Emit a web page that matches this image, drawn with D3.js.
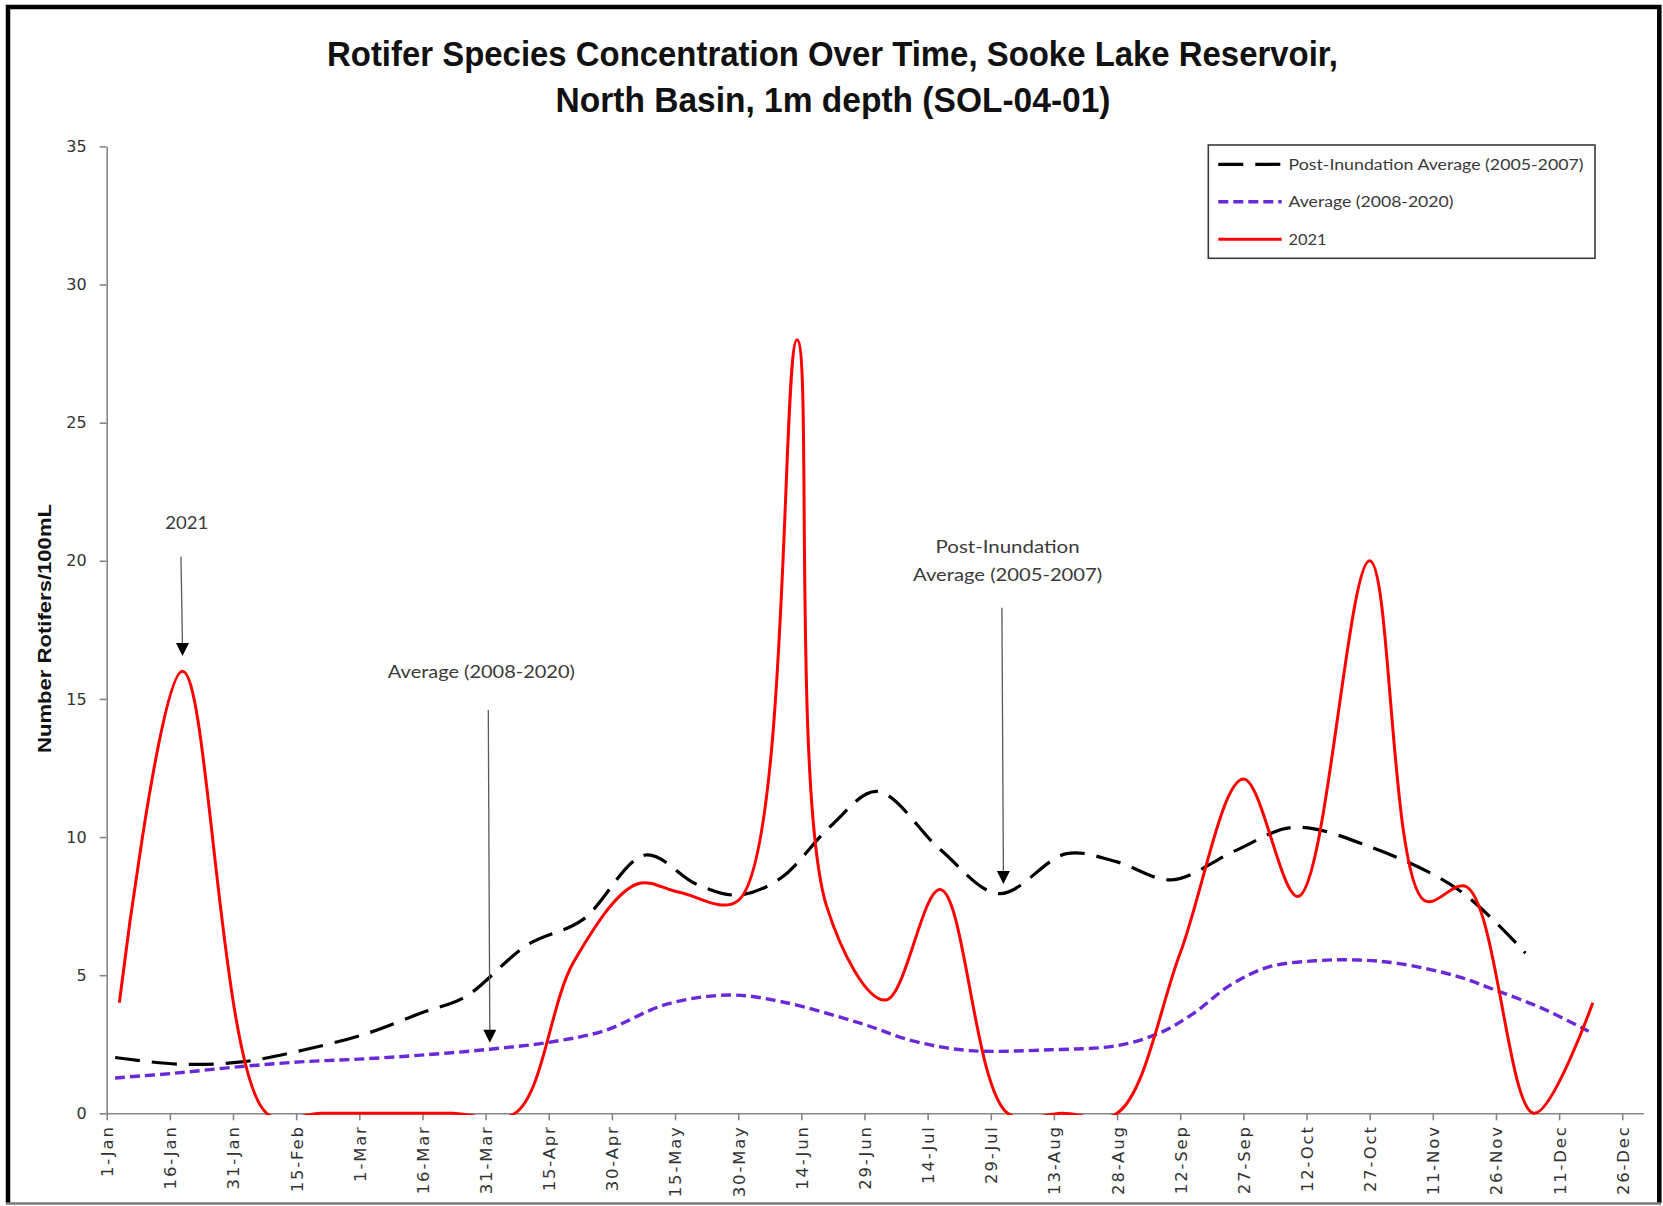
<!DOCTYPE html>
<html>
<head>
<meta charset="utf-8">
<script src="https://cdn.jsdelivr.net/npm/d3@7"></script>
<style>
  body { margin: 0; background: #fff; }
  svg { display: block; }
</style>
</head>
<body>
<svg id="chart" width="1663" height="1206"></svg>
<script>
// x axis tick labels (15 day steps, leap-year calendar like the original sheet)
var tickLabels = ["1-Jan","16-Jan","31-Jan","15-Feb","1-Mar","16-Mar","31-Mar","15-Apr","30-Apr",
  "15-May","30-May","14-Jun","29-Jun","14-Jul","29-Jul","13-Aug","28-Aug","12-Sep","27-Sep",
  "12-Oct","27-Oct","11-Nov","26-Nov","11-Dec","26-Dec"];
var yTicks = [0, 5, 10, 15, 20, 25, 30, 35];

// Post-Inundation Average (2005-2007)
var postDates = ["3-Jan","18-Jan","2-Feb","17-Feb","3-Mar","16-Mar","26-Mar","10-Apr","23-Apr","8-May",
  "20-May","30-May","9-Jun","21-Jun","2-Jul","17-Jul","31-Jul","16-Aug","28-Aug","10-Sep","25-Sep",
  "9-Oct","27-Oct","17-Nov","3-Dec"];
var postValues = [2.02, 1.78, 1.86, 2.3, 2.9, 3.65, 4.2, 6.1, 7.0, 9.35,
  8.3, 7.9, 8.5, 10.4, 11.65, 9.55, 7.95, 9.4, 9.1, 8.45, 9.5,
  10.35, 9.65, 8.1, 5.8];

// Average (2008-2020)
var avgDates = ["3-Jan","17-Jan","1-Feb","16-Feb","2-Mar","17-Mar","1-Apr","15-Apr","28-Apr","13-May",
  "28-May","9-Jun","28-Jun","11-Jul","24-Jul","12-Aug","28-Aug","7-Sep","15-Sep","24-Sep","3-Oct",
  "14-Oct","24-Oct","3-Nov","17-Nov","26-Nov","7-Dec","18-Dec"];
var avgValues = [1.28, 1.45, 1.68, 1.86, 1.97, 2.12, 2.32, 2.57, 2.98, 3.95,
  4.28, 4.05, 3.26, 2.6, 2.27, 2.3, 2.45, 2.9, 3.6, 4.65, 5.3,
  5.52, 5.55, 5.42, 4.95, 4.45, 3.8, 2.97];

// 2021
var obsDates = ["4-Jan","19-Jan","8-Feb","21-Feb","7-Mar","23-Mar","7-Apr","21-Apr","6-May","16-May",
  "30-May","13-Jun","20-Jun","4-Jul","17-Jul","2-Aug","15-Aug","28-Aug","12-Sep","27-Sep","10-Oct",
  "27-Oct","9-Nov","19-Nov","5-Dec","19-Dec"];
var obsValues = [4, 16, 0, 0, 0, 0, 0, 5.5, 8.3, 8.0,
  7.7, 28, 7.5, 4.1, 8.1, 0, 0, 0, 5.8, 12.1, 7.85,
  20, 7.7, 8.2, 0, 4];

var seriesNames = ["Post-Inundation Average (2005-2007)", "Average (2008-2020)", "2021"];

var parseDay = d3.timeParse("%d-%b-%Y");
function toDate(s) { return parseDay(s + "-2020"); }

var W = 1663, H = 1206;
var svg = d3.select("#chart");
svg.append("rect").attr("width", W).attr("height", H).attr("fill", "#fff");

var x = d3.scaleTime().domain([toDate("1-Jan"), toDate("31-Dec")]).range([106.7, 1643.3]);
var y = d3.scaleLinear().domain([0, 35]).range([1113.3, 146.4]);

var series = [
  {name: seriesNames[0], dates: postDates, values: postValues, color: "#000000", width: 3.2, dash: "25,12"},
  {name: seriesNames[1], dates: avgDates, values: avgValues, color: "#6a28d8", width: 3.4, dash: "10,5"},
  {name: seriesNames[2], dates: obsDates, values: obsValues, color: "#ff0000", width: 3, dash: null}
];

/*  FRAME   */
svg.append("path")
  .attr("d", "M8,1203 V7 H1659.3 V1203")
  .attr("fill", "none").attr("stroke", "#000").attr("stroke-width", 4.5);
svg.append("line")
  .attr("x1", 6).attr("x2", 1661).attr("y1", 1203.5).attr("y2", 1203.5)
  .attr("stroke", "#7a7a7a").attr("stroke-width", 2.5);

/*  TITLE   */
var titleFont = '"Liberation Sans Narrow", "Arial Narrow", "Liberation Sans", Arial, sans-serif';
var title = svg.append("g").attr("font-family", titleFont).attr("font-weight", "bold")
  .attr("font-size", 35).attr("text-anchor", "middle").attr("fill", "#111");
title.append("text").attr("x", 832.5).attr("y", 66)
  .attr("textLength", 1011).attr("lengthAdjust", "spacingAndGlyphs")
  .text("Rotifer Species Concentration Over Time, Sooke Lake Reservoir,");
title.append("text").attr("x", 833).attr("y", 111.5)
  .attr("textLength", 555).attr("lengthAdjust", "spacingAndGlyphs")
  .text("North Basin, 1m depth (SOL-04-01)");

/*  AXES   */
var axisColor = "#868686";
var tickFont = '"DejaVu Sans", Verdana, sans-serif';

var yAxis = svg.append("g").attr("transform", "translate(" + x.range()[0] + ",0)")
  .call(d3.axisLeft(y).tickValues(yTicks).tickSize(7).tickSizeOuter(0).tickPadding(13));
var xAxis = svg.append("g").attr("transform", "translate(0," + y(0) + ")")
  .call(d3.axisBottom(x).tickValues(tickLabels.map(toDate)).tickSize(7).tickSizeOuter(0)
    .tickFormat(function(d, i) { return tickLabels[i]; }));

[xAxis, yAxis].forEach(function(a) {
  a.select(".domain").attr("stroke", axisColor).attr("stroke-width", 1.6);
  a.selectAll(".tick line").attr("stroke", axisColor).attr("stroke-width", 1.6);
  a.selectAll(".tick text").attr("fill", "#333").attr("font-family", tickFont).attr("font-size", 16);
});
xAxis.selectAll(".tick text")
  .attr("transform", "rotate(-90)")
  .attr("text-anchor", "end")
  .attr("x", -12).attr("y", 0).attr("dy", "0.36em")
  .attr("font-size", 16.5).attr("letter-spacing", 1.8);

svg.append("text")
  .attr("transform", "translate(51,628.5) rotate(-90)")
  .attr("text-anchor", "middle")
  .attr("font-family", titleFont).attr("font-weight", "bold").attr("font-size", 19).attr("fill", "#111")
  .attr("textLength", 249).attr("lengthAdjust", "spacingAndGlyphs")
  .text("Number Rotifers/100mL");

/*  SERIES   */
svg.append("clipPath").attr("id", "plotClip").append("rect")
  .attr("x", x.range()[0]).attr("y", y(35) - 5)
  .attr("width", x.range()[1] - x.range()[0]).attr("height", y(0) + 1.6 - (y(35) - 5));

var line = d3.line()
  .x(function(d) { return x(d.date); })
  .y(function(d) { return y(d.value); })
  .curve(d3.curveCatmullRom.alpha(0.5));

var plot = svg.append("g").attr("clip-path", "url(#plotClip)");
series.forEach(function(s) {
  var pts = s.dates.map(function(d, i) { return {date: toDate(d), value: s.values[i]}; });
  plot.append("path").datum(pts)
    .attr("d", line)
    .attr("fill", "none")
    .attr("stroke", s.color)
    .attr("stroke-width", s.width)
    .attr("stroke-dasharray", s.dash)
    .attr("stroke-linejoin", "round");
});

/*  LEGEND   */
var labelFont = 'Lato, "Open Sans", "Noto Sans", sans-serif';
var legendWidths = [295, 165, 38];
var legend = svg.append("g");
legend.append("rect").attr("x", 1208.3).attr("y", 145).attr("width", 386.7).attr("height", 113.3)
  .attr("fill", "#fff").attr("stroke", "#3a3a3a").attr("stroke-width", 1.6);
series.forEach(function(s, i) {
  var cy = 164.3 + i * 37.5;
  legend.append("line").attr("x1", 1218.3).attr("x2", 1281.7).attr("y1", cy).attr("y2", cy)
    .attr("stroke", s.color).attr("stroke-width", s.width).attr("stroke-dasharray", s.dash);
  legend.append("text").attr("x", 1288.5).attr("y", cy).attr("dy", "0.35em")
    .attr("font-family", labelFont).attr("font-size", 15.5).attr("fill", "#3a3a3a")
    .attr("textLength", legendWidths[i]).attr("lengthAdjust", "spacingAndGlyphs")
    .text(s.name);
});

/*  ANNOTATIONS   */
var notes = [
  {lines: ["2021"], widths: [43], tx: "20-Jan", ty: 21.14, from: 20.15, tip: ["19-Jan", 16.55]},
  {lines: ["Average (2008-2020)"], widths: [187], tx: "30-Mar", ty: 15.75, from: 14.6, tip: ["1-Apr", 2.55]},
  {lines: ["Post-Inundation", "Average (2005-2007)"], widths: [144, 189], tx: "2-Aug", ty: 20.27, from: 18.3, tip: ["1-Aug", 8.3]}
];
var noteGroup = svg.append("g");
notes.forEach(function(n) {
  var tipX = x(toDate(n.tip[0])), tipY = y(n.tip[1]);
  n.lines.forEach(function(t, i) {
    noteGroup.append("text")
      .attr("x", x(toDate(n.tx))).attr("y", y(n.ty) + i * 28)
      .attr("text-anchor", "middle")
      .attr("font-family", labelFont).attr("font-size", 17.5).attr("fill", "#3a3a3a")
      .attr("textLength", n.widths[i]).attr("lengthAdjust", "spacingAndGlyphs")
      .text(t);
  });
  noteGroup.append("line")
    .attr("x1", tipX - 1.5).attr("y1", y(n.from))
    .attr("x2", tipX).attr("y2", tipY - 10)
    .attr("stroke", "#5a5a5a").attr("stroke-width", 1.3);
  noteGroup.append("path")
    .attr("d", "M" + (tipX - 6.5) + "," + (tipY - 13) + " L" + (tipX + 6.5) + "," + (tipY - 13) + " L" + tipX + "," + tipY + " Z")
    .attr("fill", "#000");
});
</script>
</body>
</html>
